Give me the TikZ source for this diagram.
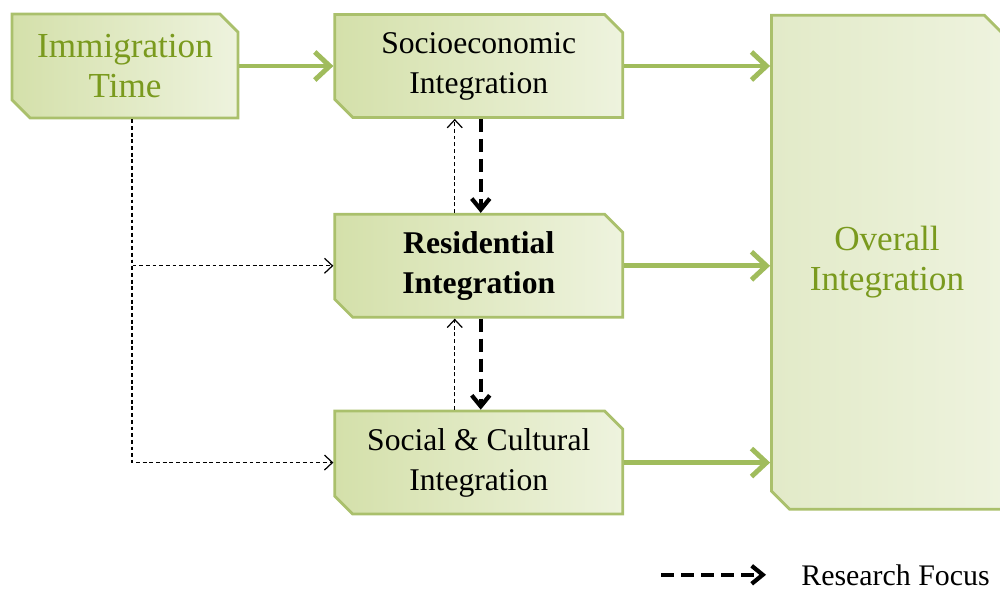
\documentclass[tikz,border=0pt]{standalone}
\usepackage{fontspec}
\setmainfont{Liberation Serif}
\usepackage{tikz}
\usetikzlibrary{positioning, arrows.meta, shapes.misc}

\definecolor{edgegreen}{RGB}{170,192,108}
\definecolor{fillleft}{RGB}{212,224,170}
\definecolor{fillright}{RGB}{238,243,222}
\definecolor{paleleft}{RGB}{226,234,200}
\definecolor{textgreen}{RGB}{122,154,30}
\definecolor{arrowgreen}{RGB}{160,188,92}

\begin{document}
\begin{tikzpicture}[
        x=0.02cm, y=-0.02cm,           % one unit = one pixel, y downwards
        node distance=1.88cm and 1.88cm,
        box/.style={                   % snipped boxes
            chamfered rectangle,
            chamfered rectangle corners={north east, south west},
            chamfered rectangle xsep=0.18cm,
            chamfered rectangle ysep=0.18cm,
            draw=edgegreen,
            line width=1.6pt,
            left color=fillleft,
            right color=fillright,
            align=center,
            inner sep=0pt
        },
        stage/.style={                 % the three middle boxes
            box,
            minimum width=5.76cm,
            minimum height=2.06cm,
            font=\fontsize{18}{22.8}\selectfont
        },
        flow/.style={                  % thick green arrows
            draw=arrowgreen,
            line width=2.8pt,
            -{Straight Barb[length=3mm, width=5.6mm]}
        },
        focus/.style={                 % research focus arrows
            draw=black,
            line width=2.4pt,
            dash pattern=on 0.26cm off 0.14cm,
            -{Straight Barb[length=2.2mm, width=3.6mm]}
        },
        link/.style={                  % thin dashed links
            draw=black,
            line width=0.7pt,
            dash pattern=on 2.2pt off 1.6pt,
            -{Straight Barb[length=1.6mm, width=3mm]}
        }
    ]

    \useasboundingbox (0,0) rectangle (1000,589);

    % --- Boxes ---

    % Immigration time (top left)
    \node[box, minimum width=4.52cm, minimum height=2.08cm,
          text=textgreen, font=\fontsize{20}{22.8}\selectfont]
        (imm) at (125,66) {Immigration\\Time};

    % Socioeconomic (top middle)
    \node[stage] (soc) [right=of imm] {Socioeconomic\\Integration};

    % Residential (middle)
    \node[stage, font=\fontsize{18}{22.8}\selectfont\bfseries]
        (res) [below=of soc] {Residential\\Integration};

    % Social & cultural (bottom middle)
    \node[stage] (cul) [below=1.82cm of res] {Social \& Cultural\\Integration};

    % Overall (right column)
    \node[box, minimum width=4.62cm, minimum height=9.88cm,
          left color=paleleft, yshift=0.07cm,
          text=textgreen, font=\fontsize{20}{22.8}\selectfont]
        (all) [right=2.92cm of res] {Overall\\Integration};

    % --- Arrows ---

    % green flows
    \draw[flow] (imm.east) -- (soc.west);
    \draw[flow] (soc.east) -- (soc.east -| all.west);
    \draw[flow] (res.east) -- (res.east -| all.west);
    \draw[flow] (cul.east) -- (cul.east -| all.west);

    % research focus (downwards)
    \draw[focus] ([xshift=0.04cm]soc.south) -- ([xshift=0.04cm]res.north);
    \draw[focus] ([xshift=0.04cm]res.south) -- ([xshift=0.04cm]cul.north);

    % feedback (upwards)
    \draw[link] ([xshift=-0.48cm]res.north) -- ([xshift=-0.48cm]soc.south);
    \draw[link] ([xshift=-0.48cm]cul.north) -- ([xshift=-0.48cm]res.south);

    % immigration time to residential and social
    \draw[link] ([xshift=0.14cm]imm.south) |- (res.west);
    \draw[link] ([xshift=0.14cm]imm.south) |- (cul.west);

    % --- Legend ---
    \node[anchor=base east, inner sep=0pt, font=\fontsize{17}{21}\selectfont]
        (key) at (990,585) {Research Focus};
    \draw[focus] ([xshift=-2.8cm]key.west) -- ([xshift=-0.7cm]key.west);

\end{tikzpicture}
\end{document}
